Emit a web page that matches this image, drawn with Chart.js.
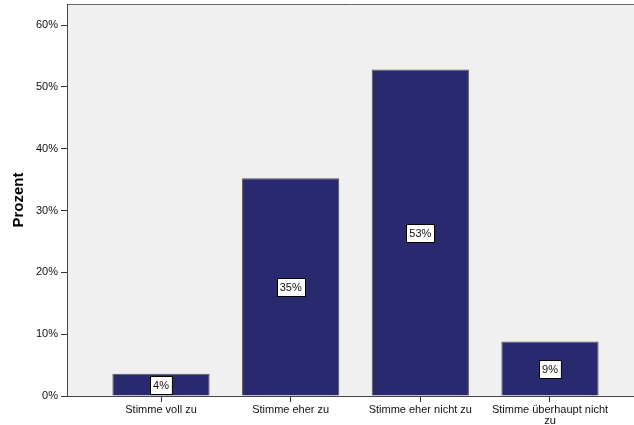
<!DOCTYPE html>
<html>
<head>
<meta charset="utf-8">
<script src="https://cdn.jsdelivr.net/npm/chart.js"></script>
<style>
  html, body { margin: 0; padding: 0; background: #fff; }
</style>
</head>
<body>
<canvas id="barChart" width="634" height="425"></canvas>
<script>
// Daten
const kategorien = [["Stimme voll zu"], ["Stimme eher zu"], ["Stimme eher nicht zu"], ["Stimme überhaupt nicht", "zu"]];
const prozent = [3.6, 35.2, 52.8, 8.8];
const yTicks = [0, 10, 20, 30, 40, 50, 60];

const schrift = "'Liberation Sans', Arial, sans-serif";

// grauer Hintergrund der Plotfläche + obere Linie
const hintergrund = {
  id: 'hintergrund',
  beforeDraw(chart) {
    const {ctx, chartArea: a} = chart;
    ctx.save();
    ctx.fillStyle = '#f0f0f0';
    ctx.fillRect(a.left, a.top, a.right - a.left, a.bottom - a.top);
    ctx.strokeStyle = '#666';
    ctx.lineWidth = 1;
    ctx.beginPath();
    ctx.moveTo(a.left, a.top + 0.5);
    ctx.lineTo(a.right, a.top + 0.5);
    ctx.stroke();
    ctx.restore();
  }
};

// weiße Kästchen mit Prozentwert in der Mitte der Balken
const beschriftung = {
  id: 'beschriftung',
  afterDatasetsDraw(chart) {
    const {ctx} = chart;
    ctx.save();
    ctx.font = '11px ' + schrift;
    ctx.textAlign = 'center';
    ctx.textBaseline = 'middle';
    chart.getDatasetMeta(0).data.forEach((bar, i) => {
      const text = Math.round(prozent[i]) + '%';
      const w = ctx.measureText(text).width + 6;
      const h = 18;
      const x = Math.round(bar.x - w / 2) + 0.5;
      const y = Math.round((bar.y + bar.base) / 2 - h / 2) + 0.5;
      ctx.fillStyle = '#fff';
      ctx.fillRect(x, y, w, h);
      ctx.strokeStyle = '#000';
      ctx.lineWidth = 1;
      ctx.strokeRect(x, y, w, h);
      ctx.fillStyle = '#111';
      ctx.fillText(text, bar.x, y + h / 2 + 0.5);
    });
    ctx.restore();
  }
};

const ctx = document.getElementById('barChart').getContext('2d');
new Chart(ctx, {
  type: 'bar',
  data: {
    datasets: [{
      data: prozent.map((v, i) => ({x: i + 1, y: v})),
      backgroundColor: '#29296f',
      borderColor: '#555',
      borderWidth: 1,
      barPercentage: 0.75,
      categoryPercentage: 1
    }]
  },
  options: {
    responsive: false,
    animation: false,
    layout: { padding: { top: 4, right: 0, left: 0, bottom: 0 } },
    plugins: { legend: { display: false }, tooltip: { enabled: false } },
    scales: {
      x: {
        type: 'linear',
        min: 0.275,
        max: 4.648,
        offset: false,
        afterBuildTicks: s => { s.ticks = kategorien.map((_, i) => ({value: i + 1})); },
        afterFit: s => { s.height = 29; s.paddingLeft = 0; s.paddingRight = 0; },
        grid: { offset: false, drawOnChartArea: false, tickLength: 6, tickColor: '#333' },
        border: { color: '#444' },
        ticks: {
          autoSkip: false,
          maxRotation: 0,
          padding: 3,
          color: '#111',
          font: { family: schrift, size: 11, lineHeight: '10.5px' },
          callback: v => kategorien[v - 1]
        }
      },
      y: {
        min: 0,
        max: 63.4,
        afterBuildTicks: s => { s.ticks = yTicks.map(v => ({value: v})); },
        afterFit: s => { s.width = 67; s.paddingTop = 0; s.paddingBottom = 0; },
        grid: { drawOnChartArea: false, tickLength: 6, tickColor: '#333' },
        border: { color: '#444' },
        ticks: {
          padding: 3,
          color: '#111',
          font: { family: schrift, size: 11 },
          callback: v => v + '%'
        },
        title: {
          display: true,
          text: 'Prozent',
          color: '#000',
          padding: { top: 10, bottom: 0 },
          font: { family: schrift, size: 15, weight: 'bold' }
        }
      }
    }
  },
  plugins: [hintergrund, beschriftung]
});
</script>
</body>
</html>
